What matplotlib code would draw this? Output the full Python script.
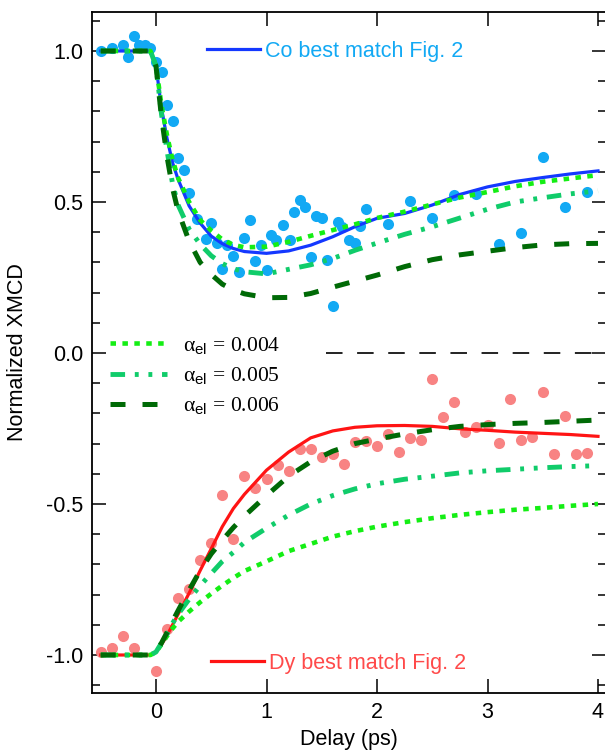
import matplotlib
matplotlib.use("Agg")
import matplotlib.pyplot as plt
from matplotlib.ticker import MultipleLocator

plt.rcParams['font.family'] = ['Liberation Sans', 'DejaVu Sans']
plt.rcParams['mathtext.fontset'] = 'custom'
plt.rcParams['mathtext.rm'] = 'Liberation Serif'
plt.rcParams['mathtext.it'] = 'Liberation Serif:italic'
plt.rcParams['mathtext.sf'] = 'Liberation Sans'

# ---------------- data ----------------
co_t = [-0.50, -0.40, -0.30, -0.25, -0.20, -0.15, -0.10, -0.05, 0.00, 0.05,
        0.10, 0.15, 0.20, 0.25, 0.30, 0.37, 0.45, 0.50, 0.55, 0.60,
        0.64, 0.70, 0.75, 0.80, 0.85, 0.90, 0.95, 1.00, 1.04, 1.09,
        1.15, 1.21, 1.25, 1.30, 1.35, 1.40, 1.45, 1.50, 1.55, 1.60,
        1.65, 1.68, 1.75, 1.80, 1.85, 1.90, 2.10, 2.30, 2.50, 2.70,
        2.90, 3.10, 3.30, 3.50, 3.70, 3.90]
co_v = [1.00, 1.01, 1.02, 0.98, 1.05, 1.02, 1.02, 1.01, 0.965, 0.932,
        0.82, 0.768, 0.645, 0.606, 0.53, 0.445, 0.377, 0.43, 0.365, 0.277,
        0.357, 0.321, 0.267, 0.382, 0.44, 0.306, 0.356, 0.275, 0.392, 0.374,
        0.425, 0.374, 0.468, 0.508, 0.485, 0.319, 0.454, 0.447, 0.307, 0.157,
        0.433, 0.416, 0.375, 0.364, 0.422, 0.477, 0.427, 0.502, 0.446, 0.523,
        0.528, 0.362, 0.396, 0.648, 0.482, 0.532]

dy_t = [-0.5, -0.4, -0.3, -0.2, 0.0, 0.1, 0.2, 0.3, 0.4, 0.5, 0.6, 0.7, 0.8, 0.9,
        1.0, 1.1, 1.2, 1.3, 1.4, 1.5, 1.6, 1.7, 1.8, 1.9, 2.0, 2.1, 2.2, 2.3,
        2.4, 2.5, 2.6, 2.7, 2.8, 2.9, 3.0, 3.1, 3.2, 3.3, 3.4, 3.5, 3.6, 3.7,
        3.8, 3.9]
dy_v = [-0.99, -0.977, -0.938, -0.978, -1.052, -0.913, -0.81, -0.78, -0.686, -0.63,
        -0.47, -0.617, -0.407, -0.448, -0.418, -0.372, -0.39, -0.319, -0.319, -0.343,
        -0.334, -0.367, -0.294, -0.291, -0.307, -0.268, -0.327, -0.28, -0.288, -0.087,
        -0.213, -0.161, -0.26, -0.244, -0.238, -0.299, -0.153, -0.288, -0.277, -0.128,
        -0.334, -0.208, -0.334, -0.332]

fit_t = [-0.5, -0.05, 0.0, 0.05, 0.1, 0.15, 0.2, 0.3, 0.4, 0.5, 0.6, 0.7, 0.8, 1.0,
         1.2, 1.4, 1.6, 1.8, 2.0, 2.25, 2.5, 2.75, 3.0, 3.25, 3.5, 3.75, 4.0]

co_best = [1.0, 1.0, 0.95, 0.81, 0.71, 0.63, 0.575, 0.487, 0.43, 0.387, 0.362, 0.346, 0.336,
           0.330, 0.338, 0.357, 0.385, 0.418, 0.446, 0.462, 0.49, 0.525, 0.55, 0.568,
           0.581, 0.593, 0.603]
co_a004 = [1.0, 1.0, 0.95, 0.82, 0.72, 0.64, 0.58, 0.50, 0.44, 0.405, 0.376, 0.358, 0.35,
           0.352, 0.368, 0.388, 0.407, 0.426, 0.447, 0.468, 0.492, 0.515, 0.533, 0.552,
           0.567, 0.578, 0.589]
co_a005 = [1.0, 1.0, 0.95, 0.79, 0.67, 0.56, 0.49, 0.41, 0.36, 0.322, 0.296, 0.279, 0.269,
           0.262, 0.277, 0.292, 0.313, 0.34, 0.364, 0.393, 0.418, 0.447, 0.476, 0.50,
           0.514, 0.527, 0.537]
co_a006 = [1.0, 1.0, 0.95, 0.78, 0.65, 0.545, 0.47, 0.37, 0.30, 0.26, 0.228, 0.209, 0.196,
           0.183, 0.184, 0.197, 0.218, 0.238, 0.258, 0.286, 0.309, 0.325, 0.337, 0.349,
           0.358, 0.362, 0.363]

dy_best = [-1.0, -1.0, -0.99, -0.965, -0.935, -0.90, -0.865, -0.795, -0.72, -0.648, -0.575,
           -0.515, -0.468, -0.388, -0.328, -0.281, -0.258, -0.246, -0.241, -0.24, -0.243,
           -0.251, -0.256, -0.262, -0.266, -0.27, -0.276]
dy_a004 = [-1.0, -1.0, -0.99, -0.965, -0.937, -0.912, -0.89, -0.856, -0.825, -0.797, -0.77,
           -0.745, -0.722, -0.69, -0.656, -0.632, -0.608, -0.59, -0.575, -0.56, -0.547,
           -0.536, -0.527, -0.519, -0.513, -0.506, -0.50]
dy_a005 = [-1.0, -1.0, -0.99, -0.96, -0.93, -0.895, -0.865, -0.815, -0.77, -0.73, -0.69,
           -0.66, -0.627, -0.58, -0.537, -0.50, -0.472, -0.45, -0.433, -0.418, -0.408,
           -0.397, -0.39, -0.385, -0.38, -0.376, -0.373]
dy_a006 = [-1.0, -1.0, -0.99, -0.96, -0.925, -0.888, -0.853, -0.785, -0.72, -0.665, -0.62,
           -0.578, -0.54, -0.472, -0.408, -0.36, -0.325, -0.30, -0.285, -0.268, -0.254,
           -0.243, -0.237, -0.233, -0.23, -0.226, -0.222]

zero_t = [1.54, 4.07]
zero_v = [0.0, 0.0]

x_ticks = [0, 1, 2, 3, 4]
y_ticks = [-1.0, -0.5, 0.0, 0.5, 1.0]
y_ticklabels = ['-1.0', '-0.5', '0.0', '0.5', '1.0']
alpha_labels = [r'$\mathrm{\alpha}_{\mathsf{el}}\mathrm{\,=\,0.004}$',
                r'$\mathrm{\alpha}_{\mathsf{el}}\mathrm{\,=\,0.005}$',
                r'$\mathrm{\alpha}_{\mathsf{el}}\mathrm{\,=\,0.006}$']

# ---------------- styles ----------------
C_CO_PT = '#12a9f4'
C_DY_PT = '#f88383'
C_BLUE = '#1438ff'
C_RED = '#ff1414'
C_G1 = '#14ee14'
C_G2 = '#10cc6a'
C_G3 = '#006a06'
FS = 15.5

W, H = 605, 750
fig = plt.figure(figsize=(W / 100, H / 100), dpi=100)
L, R, T, B = 92, 606, 12, 693
ax = fig.add_axes([L / W, 1 - B / H, (R - L) / W, (B - T) / H])

ax.plot(co_t, co_v, 'o', color=C_CO_PT, ms=8.0, mew=0, zorder=2)
ax.plot(dy_t, dy_v, 'o', color=C_DY_PT, ms=8.0, mew=0, zorder=2)

ax.plot(zero_t, zero_v, color='#222222', lw=1.4, dashes=(8.5, 7.5), zorder=3)

def styled(x, y, kind, color):
    if kind == 'solid':
        return ax.plot(x, y, color=color, lw=2.3, zorder=4)[0]
    if kind == 'dot':
        return ax.plot(x, y, color=color, lw=3.3, dashes=(1.2, 1.4), zorder=5)[0]
    if kind == 'dashdot':
        return ax.plot(x, y, color=color, lw=3.5, dashes=(3.0, 2.0, 0.8, 2.0, 0.8, 2.0), zorder=5)[0]
    return ax.plot(x, y, color=color, lw=3.6, dashes=(3.0, 3.4), zorder=5)[0]

h_co = styled(fit_t, co_best, 'solid', C_BLUE)
h_dy = styled(fit_t, dy_best, 'solid', C_RED)
h1 = styled(fit_t, co_a004, 'dot', C_G1)
styled(fit_t, dy_a004, 'dot', C_G1)
h2 = styled(fit_t, co_a005, 'dashdot', C_G2)
styled(fit_t, dy_a005, 'dashdot', C_G2)
h3 = styled(fit_t, co_a006, 'dash', C_G3)
styled(fit_t, dy_a006, 'dash', C_G3)

ax.set_xlim((L - 156) / 110.5, (R - 156) / 110.5)
ax.set_ylim(-1.0 - (B - 655) / 302.0, 1.0 + (51 - T) / 302.0)

ax.set_xticks(x_ticks)
ax.set_xticklabels([str(v) for v in x_ticks])
ax.set_yticks(y_ticks)
ax.set_yticklabels(y_ticklabels)
ax.yaxis.set_minor_locator(MultipleLocator(0.1))
ax.tick_params(axis='both', which='major', direction='in', length=9.8, width=1.1,
               labelsize=FS, top=True, right=True, pad=6.5)
ax.tick_params(axis='y', which='minor', direction='in', length=5.8, width=1.1,
               left=True, right=True)
for s in ax.spines.values():
    s.set_linewidth(1.3)

ax.set_xlabel('Delay (ps)', fontsize=FS, labelpad=4)
ax.set_ylabel('Normalized XMCD', fontsize=FS)
ax.yaxis.set_label_coords((28 - L) / (R - L), 0.5)

# legends
leg_co = ax.legend([h_co], ['Co best match Fig. 2'], loc='center left',
                   bbox_to_anchor=((207 - L) / (R - L), (B - 51) / (B - T)),
                   frameon=False, fontsize=FS, handlelength=2.46, handletextpad=0.23,
                   borderpad=0, borderaxespad=0, labelcolor=C_CO_PT)
ax.add_artist(leg_co)
leg_dy = ax.legend([h_dy], ['Dy best match Fig. 2'], loc='center left',
                   bbox_to_anchor=((211 - L) / (R - L), (B - 663) / (B - T)),
                   frameon=False, fontsize=FS, handlelength=2.46, handletextpad=0.23,
                   borderpad=0, borderaxespad=0, labelcolor='#ff4a4a')
ax.add_artist(leg_dy)
leg_a = ax.legend([h1, h2, h3], alpha_labels, loc='upper left',
                  bbox_to_anchor=((110 - L) / (R - L), (B - 335) / (B - T)),
                  frameon=False, fontsize=FS, handlelength=2.65, handletextpad=0.72,
                  borderpad=0, borderaxespad=0, labelspacing=0.42)

fig.savefig('out.png', dpi=100)
